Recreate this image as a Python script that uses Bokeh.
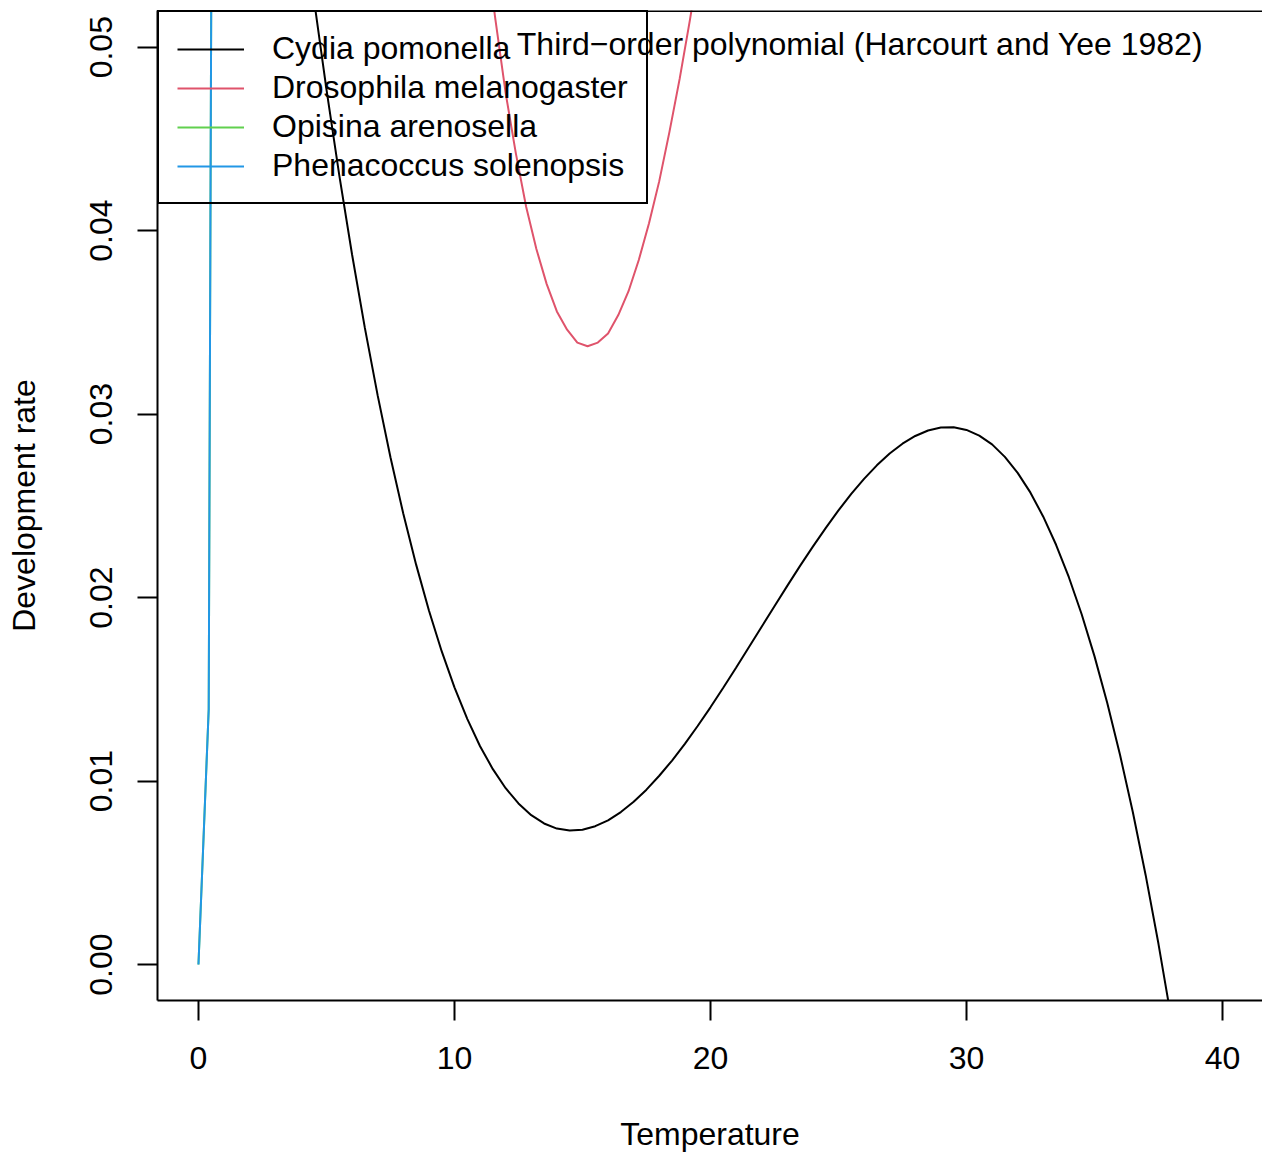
from bokeh.plotting import figure
from bokeh.models import Range1d, FixedTicker, Legend, LegendItem, Label, Span
from bokeh.embed import file_html
from bokeh.resources import INLINE

FONT = "Liberation Sans"

# ---- data ----
x_ticks = [0, 10, 20, 30, 40]
x_tick_labels = ["0", "10", "20", "30", "40"]
y_ticks = [0.0, 0.01, 0.02, 0.03, 0.04, 0.05]
y_tick_labels = ["0.00", "0.01", "0.02", "0.03", "0.04", "0.05"]

species = ["Cydia pomonella", "Drosophila melanogaster",
           "Opisina arenosella", "Phenacoccus solenopsis"]
colors = ["black", "#DF536B", "#61D04F", "#2297E6"]

cydia_temp = [4.0, 4.5, 5.0, 5.5, 6.0, 6.5, 7.0, 7.5, 8.0, 8.5, 9.0, 9.5,
              10.0, 10.5, 11.0, 11.5, 12.0, 12.5, 13.0, 13.5, 14.0, 14.5,
              15.0, 15.5, 16.0, 16.5, 17.0, 17.5, 18.0, 18.5, 19.0, 19.5,
              20.0, 20.5, 21.0, 21.5, 22.0, 22.5, 23.0, 23.5, 24.0, 24.5,
              25.0, 25.5, 26.0, 26.5, 27.0, 27.5, 28.0, 28.5, 29.0, 29.5,
              30.0, 30.5, 31.0, 31.5, 32.0, 32.5, 33.0, 33.5, 34.0, 34.5,
              35.0, 35.5, 36.0, 36.5, 37.0, 37.5, 38.0]
cydia_rate = [0.05811, 0.05272, 0.04770, 0.04303, 0.03870, 0.03470, 0.03102,
              0.02765, 0.02458, 0.02181, 0.01931, 0.01708, 0.01511, 0.01339,
              0.01190, 0.01065, 0.00961, 0.00878, 0.00814, 0.00769, 0.00741,
              0.00730, 0.00735, 0.00754, 0.00786, 0.00831, 0.00887, 0.00953,
              0.01029, 0.01112, 0.01203, 0.01300, 0.01402, 0.01509, 0.01618,
              0.01729, 0.01841, 0.01953, 0.02064, 0.02173, 0.02278, 0.02379,
              0.02475, 0.02565, 0.02647, 0.02721, 0.02785, 0.02839, 0.02881,
              0.02911, 0.02927, 0.02929, 0.02914, 0.02883, 0.02835, 0.02767,
              0.02680, 0.02572, 0.02441, 0.02288, 0.02111, 0.01909, 0.01681,
              0.01426, 0.01142, 0.00830, 0.00487, 0.00113, -0.00294]

droso_temp = [11.2, 11.6, 12.0, 12.4, 12.8, 13.2, 13.6, 14.0, 14.4, 14.8,
              15.2, 15.6, 16.0, 16.4, 16.8, 17.2, 17.6, 18.0, 18.4, 18.8,
              19.2, 19.6]
droso_rate = [0.0558, 0.0515, 0.0475, 0.0442, 0.0413, 0.0390, 0.0371, 0.0356,
              0.0346, 0.0339, 0.0337, 0.0339, 0.0344, 0.0354, 0.0367, 0.0384,
              0.0404, 0.0427, 0.0454, 0.0483, 0.0515, 0.0550]

# not visible in the reference (hidden beneath the blue curve)
opisina_temp = [0.0, 0.4, 0.8]
opisina_rate = [0.0, 0.0139, 0.170]

phena_temp = [0.0, 0.4, 0.8]
phena_rate = [0.0, 0.0139, 0.170]

title_text = "Third\u2212order polynomial (Harcourt and Yee 1982)"
title_x = 25.84
title_y = 0.0502

X_LO, X_HI = -1.6, 41.564
Y_LO, Y_HI = -0.00196, 0.05200

# ---- figure ----
p = figure(width=1262, height=1155,
           x_range=Range1d(X_LO, X_HI), y_range=Range1d(Y_LO, Y_HI),
           output_backend="svg", toolbar_location=None, title=None,
           min_border_left=157, min_border_right=0,
           min_border_top=10, min_border_bottom=155)

p.background_fill_color = "white"
p.border_fill_color = "white"
p.outline_line_color = None
p.grid.visible = False

p.xaxis.ticker = FixedTicker(ticks=x_ticks)
p.xaxis.major_label_overrides = {t: l for t, l in zip(x_ticks, x_tick_labels)}
p.yaxis.ticker = FixedTicker(ticks=y_ticks)
p.yaxis.major_label_overrides = {t: l for t, l in zip(y_ticks, y_tick_labels)}
p.yaxis.major_label_orientation = "vertical"

for ax in p.axis:
    ax.axis_line_width = 2
    ax.axis_line_color = "black"
    ax.major_tick_line_width = 2
    ax.major_tick_line_color = "black"
    ax.major_tick_out = 20
    ax.major_tick_in = 0
    ax.minor_tick_out = 0
    ax.minor_tick_in = 0
    ax.major_label_text_font = FONT
    ax.major_label_text_font_size = "32px"
    ax.major_label_text_color = "black"
    ax.axis_label_text_font = FONT
    ax.axis_label_text_font_size = "32px"
    ax.axis_label_text_font_style = "normal"
    ax.axis_label_text_color = "black"

p.xaxis.axis_label = "Temperature"
p.yaxis.axis_label = "Development rate"
p.xaxis.major_label_standoff = 26
p.yaxis.major_label_standoff = 25
p.xaxis.axis_label_standoff = 44
p.yaxis.axis_label_standoff = 46

# top edge of the plot box (the right edge falls outside the window)
p.add_layout(Span(location=Y_HI - 0.00003, dimension="width",
                  line_color="black", line_width=2))

series = [(cydia_temp, cydia_rate), (droso_temp, droso_rate),
          (opisina_temp, opisina_rate), (phena_temp, phena_rate)]
renderers = []
for (tx, ry), c in zip(series, colors):
    renderers.append(p.line(tx, ry, line_color=c, line_width=2))

legend = Legend(
    items=[LegendItem(label=s, renderers=[r]) for s, r in zip(species, renderers)],
    location="top_left", margin=0, padding=18, spacing=2,
    glyph_width=67, glyph_height=36, label_height=36, label_standoff=28,
    label_text_font=FONT, label_text_font_size="32px", label_text_color="black",
    border_line_color="black", border_line_width=2, border_line_alpha=1,
    background_fill_alpha=0)
p.add_layout(legend)

p.add_layout(Label(x=title_x, y=title_y, text=title_text,
                   text_align="center", text_baseline="middle",
                   text_font=FONT, text_font_size="32px", text_color="black"))

open("out.html", "w").write(file_html(p, INLINE))
